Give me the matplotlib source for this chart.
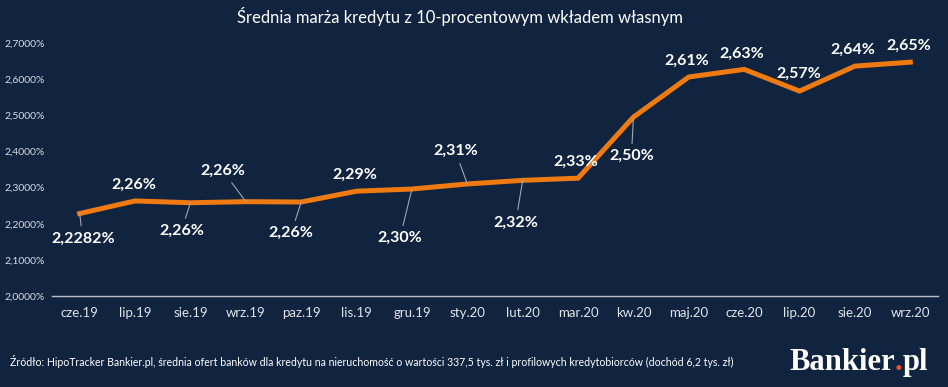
import matplotlib.pyplot as plt

# data
months = ['cze.19', 'lip.19', 'sie.19', 'wrz.19', 'paz.19', 'lis.19', 'gru.19', 'sty.20',
          'lut.20', 'mar.20', 'kw.20', 'maj.20', 'cze.20', 'lip.20', 'sie.20', 'wrz.20']
marza = [2.2282, 2.263, 2.258, 2.261, 2.260, 2.290, 2.296, 2.310,
         2.320, 2.326, 2.495, 2.606, 2.627, 2.567, 2.636, 2.647]
labels = ['2,2282%', '2,26%', '2,26%', '2,26%', '2,26%', '2,29%', '2,30%', '2,31%',
          '2,32%', '2,33%', '2,50%', '2,61%', '2,63%', '2,57%', '2,64%', '2,65%']
y_ticks = [2.0, 2.1, 2.2, 2.3, 2.4, 2.5, 2.6, 2.7]

# label offsets in pixels (dx, dy) and whether a leader line is drawn
offsets = [(3, -25, True), (-1, 16, False), (-9, -28, True), (-23, 31, True),
           (-10, -31, True), (-2, 16, False), (-12, -49, True), (-12, 33, True),
           (-7, -42, True), (-2, 16, False), (-2, -39, True), (-2, 16, False),
           (-2, 16, False), (-1, 17, False), (-2, 16, False), (-2, 16, False)]

bg = '#10233f'
orange = '#ef7a12'
plt.rcParams['font.family'] = ['Lato', 'DejaVu Sans']

fig = plt.figure(figsize=(9.48, 3.87), dpi=100, facecolor=bg)
ax = fig.add_axes([52 / 948, 91 / 387, 886 / 948, 253 / 387], facecolor=bg)

x = list(range(len(months)))
ax.plot(x, marza, color=orange, lw=3.6, solid_joinstyle='miter', zorder=3)

for i, (lab, (dx, dy, lead)) in enumerate(zip(labels, offsets)):
    props = None
    if lead:
        props = dict(arrowstyle='-', color='#a0a6b0', lw=0.8, shrinkA=2, shrinkB=0)
    ax.annotate(lab, (x[i], marza[i]), xytext=(dx, dy), textcoords='offset pixels',
                ha='center', va='center', color='white', fontsize=11.5,
                fontweight='bold', arrowprops=props, zorder=4)

ax.set_xlim(-0.5, len(months) - 0.5)
ax.set_ylim(2.0, 2.7)
ax.set_xticks(x)
ax.set_xticklabels(months, color='#e0e3e8', fontsize=9.5)
ax.set_yticks(y_ticks)
ax.set_yticklabels([f'{v:.4f}%'.replace('.', ',') for v in y_ticks],
                   color='#d8dbe0', fontsize=7.5, ha='left')
ax.tick_params(axis='y', length=0, pad=34)
ax.tick_params(axis='x', length=0, pad=8)

for s in ['top', 'right', 'left']:
    ax.spines[s].set_visible(False)
ax.spines['bottom'].set_color('#bfc3c9')
ax.spines['bottom'].set_linewidth(1)

fig.text(0.485, 1 - 17 / 387, 'Średnia marża kredytu z 10-procentowym wkładem własnym',
         ha='center', va='center', color='white', fontsize=12)
fig.text(10 / 948, 1 - 362 / 387,
         'Źródło: HipoTracker Bankier.pl, średnia ofert banków dla kredytu na nieruchomość '
         'o wartości 337,5 tys. zł i profilowych kredytobiorców (dochód 6,2 tys. zł)',
         ha='left', va='center', color='white', fontsize=7.6)

# logo
base = 1 - 370 / 387
logo_font = dict(fontsize=22, fontweight='bold', family='Liberation Serif')
t = fig.text(789 / 948, base, 'Bankier', ha='left', va='baseline', color='white', **logo_font)
fig.canvas.draw()
bb = t.get_window_extent()
t2 = fig.text(bb.x1 / 948, base, '.', ha='left', va='baseline', color='#e8532b', **logo_font)
bb2 = t2.get_window_extent()
fig.text(bb2.x1 / 948, base, 'pl', ha='left', va='baseline', color='white', **logo_font)

fig.savefig('out.png', dpi=100, facecolor=bg)
